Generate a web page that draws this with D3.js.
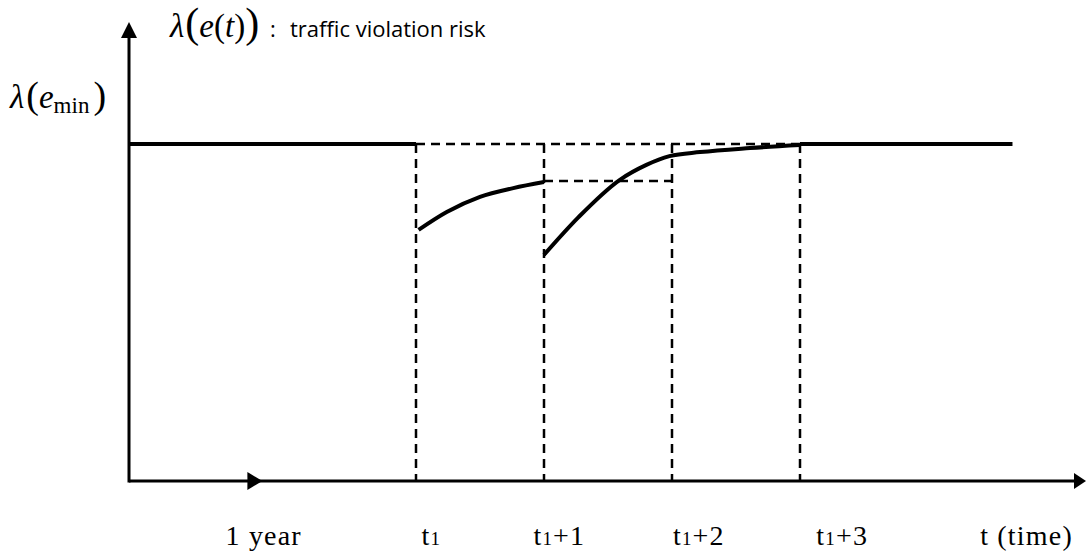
<!DOCTYPE html>
<html><head><meta charset="utf-8">
<script src="https://cdn.jsdelivr.net/npm/d3@7"></script>
<style>body{margin:0;background:#fff}svg{display:block}</style>
</head><body>
<script>
// ---- data (t in years relative to t1; risk relative to λ(e_min)) ----
const riskLevel = 1.0;                       // λ(e_min)
const baseBefore = [[-2.24, 1.0], [0, 1.0]];
const baseAfter  = [[3, 1.0], [4.66, 1.0]];
const curve1T = [0.02, 0.24, 0.5, 0.76, 1.0];
const curve1V = [0.745, 0.798, 0.843, 0.869, 0.887];
const curve2T = [1.0, 1.27, 1.59, 1.80, 1.98, 2.22, 2.61, 3.0];
const curve2V = [0.671, 0.783, 0.893, 0.938, 0.964, 0.976, 0.988, 0.997];
const markYears = [0, 1, 2, 3];               // dashed guides
const stepLevel = 0.89;                       // dashed step between t1+1 and t1+2
const tickLabels = ["1 year", "t1", "t1+1", "t1+2", "t1+3", "t (time)"];
const tickAt = [-1.19, 0.12, 1.12, 2.21, 3.33, 4.77];
const yearArrowAt = -1.2;

const W = 1086, H = 552;
const svg = d3.select("body").append("svg").attr("width", W).attr("height", H);

const x = d3.scaleLinear().domain([0, 3]).range([416, 800]);
const y = d3.scaleLinear().domain([0, 1]).range([481, 144]);
const x0 = x.invert(129), xEnd = x.invert(1086);

const line = d3.line().x(d => x(d[0])).y(d => y(d[1]));
const smooth = d3.line().x(d => x(d[0])).y(d => y(d[1])).curve(d3.curveMonotoneX);

// axes
svg.append("line").attr("x1", x(x0)).attr("x2", x(xEnd) - 8).attr("y1", y(0)).attr("y2", y(0))
  .attr("stroke", "#000").attr("stroke-width", 3);
svg.append("line").attr("x1", x(x0)).attr("x2", x(x0)).attr("y1", y(0) + 1.5).attr("y2", 32)
  .attr("stroke", "#000").attr("stroke-width", 3);
// arrowheads
const ax = x(x0);
svg.append("path").attr("d", `M${ax},22 L${ax - 8},38 L${ax + 8},38 Z`).attr("fill", "#000");
const ex = x(xEnd), ey = y(0);
svg.append("path").attr("d", `M${ex},${ey} L${ex - 12},${ey - 8} L${ex - 12},${ey + 8} Z`).attr("fill", "#000");
const mx = x(yearArrowAt);
svg.append("path").attr("d", `M${mx},${ey} L${mx - 15},${ey - 9} L${mx - 15},${ey + 9} Z`).attr("fill", "#000");

// dashed guides
const dash = { "stroke": "#000", "stroke-width": 2.5, "stroke-dasharray": "9,6", "fill": "none" };
function dashed(p) { const s = svg.append("path").attr("d", line(p)); for (const k in dash) s.attr(k, dash[k]); }
dashed([[markYears[0], riskLevel], [markYears[3], riskLevel]]);
markYears.forEach(t => dashed([[t, riskLevel], [t, 0]]));
dashed([[markYears[1], stepLevel], [markYears[2], stepLevel]]);

// solid risk lines
const solid = s => s.attr("stroke", "#000").attr("stroke-width", 4).attr("fill", "none");
solid(svg.append("path").attr("d", line(baseBefore)));
solid(svg.append("path").attr("d", line(baseAfter)));
solid(svg.append("path").attr("d", smooth(d3.zip(curve1T, curve1V))));
solid(svg.append("path").attr("d", smooth(d3.zip(curve2T, curve2V))));

// tick labels
const serif = "'Liberation Serif', 'Times New Roman', serif";
tickLabels.forEach((lab, i) => {
  const t = svg.append("text").attr("x", x(tickAt[i])).attr("y", 545).attr("text-anchor", "middle")
    .attr("font-family", serif).attr("font-size", 28).attr("letter-spacing", 1.2).attr("fill", "#000");
  const m = lab.match(/^t1(.*)$/);
  if (m) {
    t.append("tspan").text("t");
    t.append("tspan").attr("font-size", 19).text("1");
    if (m[1]) t.append("tspan").text(m[1]);
  } else t.text(lab);
});

// y label λ(e_min)
const yl = svg.append("text").attr("x", 10).attr("y", 108).attr("font-family", serif).attr("font-size", 33).attr("fill", "#000");
yl.append("tspan").attr("font-style", "italic").text("λ");
yl.append("tspan").attr("font-size", 38).attr("dx", 2).text("(");
yl.append("tspan").attr("font-style", "italic").text("e");
yl.append("tspan").attr("font-size", 23).attr("dy", 5).text("min");
yl.append("tspan").attr("font-size", 38).attr("dy", -5).attr("dx", 4).text(")");

// title
const tt = svg.append("text").attr("x", 170).attr("y", 37).attr("font-family", serif).attr("font-size", 33).attr("fill", "#000");
tt.append("tspan").attr("font-style", "italic").text("λ");
tt.append("tspan").attr("font-size", 42).attr("dx", 1).text("(");
tt.append("tspan").attr("font-style", "italic").text("e");
tt.append("tspan").text("(");
tt.append("tspan").attr("font-style", "italic").text("t");
tt.append("tspan").text(")");
tt.append("tspan").attr("font-size", 42).text(")");
tt.append("tspan").attr("font-family", "'Open Sans', sans-serif").attr("font-size", 22).attr("x", 270).text(":");
tt.append("tspan").attr("font-family", "'Open Sans', sans-serif").attr("font-size", 22).attr("x", 290).text("traffic violation risk");
</script>
</body></html>
